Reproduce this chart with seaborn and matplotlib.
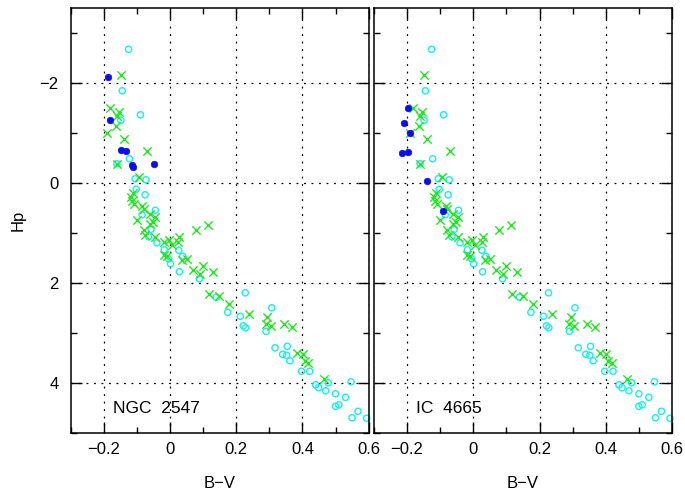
import matplotlib
matplotlib.use('Agg')
import numpy as np
import pandas as pd
from matplotlib import pyplot as plt
from matplotlib.ticker import MultipleLocator
import seaborn as sns

# values (B-V, Hp)
cyanBV = [-0.126, -0.145, -0.090, -0.149, -0.123, -0.161, -0.106, -0.073, -0.103, -0.076,
          -0.045, -0.085, -0.058, -0.065, -0.040, -0.018, 0.026, -0.005, 0.001, 0.038,
          0.028, 0.088, 0.139, 0.174, 0.227, 0.212, 0.221, 0.228, 0.307, 0.290,
          0.317, 0.354, 0.340, 0.352, 0.362, 0.397, 0.422, 0.440, 0.449, 0.478,
          0.470, 0.500, 0.530, 0.547, 0.500, 0.510, 0.568, 0.550, 0.594]
cyanHp = [-2.68, -1.85, -1.37, -1.26, -0.49, -0.39, -0.09, -0.07, 0.12, 0.23,
          0.54, 0.63, 0.92, 1.07, 1.19, 1.33, 1.34, 1.51, 1.61, 1.46,
          1.77, 1.91, 2.28, 2.58, 2.19, 2.66, 2.85, 2.89, 2.49, 2.96,
          3.29, 3.26, 3.42, 3.44, 3.55, 3.76, 3.76, 4.03, 4.09, 3.99,
          4.15, 4.21, 4.28, 3.97, 4.46, 4.43, 4.56, 4.69, 4.70]

greenBV = [-0.148, -0.181, -0.156, -0.160, -0.164, -0.191, -0.141, -0.070, -0.161, -0.095,
           -0.113, -0.118, -0.116, -0.110, -0.084, -0.080, -0.062, -0.045, -0.100, -0.052,
           -0.060, -0.080, -0.075, 0.077, 0.113, -0.045, 0.028, -0.020, -0.005, 0.005,
           0.025, -0.010, -0.018, 0.035, 0.050, 0.068, 0.100, 0.090, 0.131, 0.116,
           0.149, 0.179, 0.239, 0.294, 0.290, 0.304, 0.344, 0.368, 0.384, 0.402,
           0.407, 0.418, 0.465]
greenHp = [-2.17, -1.51, -1.43, -1.34, -1.15, -1.01, -0.89, -0.64, -0.39, -0.13,
           0.19, 0.27, 0.35, 0.41, 0.46, 0.51, 0.61, 0.67, 0.74, 0.77,
           0.81, 0.94, 1.03, 0.94, 0.83, 1.07, 1.07, 1.17, 1.14, 1.24,
           1.17, 1.46, 1.44, 1.54, 1.51, 1.73, 1.66, 1.82, 1.77, 2.21,
           2.25, 2.41, 2.62, 2.67, 2.81, 2.85, 2.82, 2.87, 3.39, 3.42,
           3.55, 3.59, 3.91]

blueNgcBV = [-0.188, -0.183, -0.149, -0.134, -0.112, -0.115, -0.050]
blueNgcHp = [-2.13, -1.26, -0.67, -0.64, -0.33, -0.36, -0.39]
blueIcBV = [-0.198, -0.209, -0.191, -0.215, -0.196, -0.141, -0.093]
blueIcHp = [-1.51, -1.21, -1.00, -0.60, -0.63, -0.04, 0.56]

clusterNames = ['NGC  2547', 'IC  4665']

plt.rcParams['font.family'] = ['Liberation Sans', 'DejaVu Sans']
plt.rcParams['axes.linewidth'] = 1.1

cyanColor = '#14f0f0'
greenColor = '#1ee81e'
blueColor = '#0c0cf0'


def drawPanel(ax, blueBV, blueHp, name, showY):
    ax.set_axisbelow(True)
    ax.grid(True, which='major', color='k', linestyle=(0, (1.5, 4.5)), linewidth=0.9)

    sns.scatterplot(ax=ax, x=cyanBV, y=cyanHp, marker='o', s=20, color=cyanColor, linewidth=1.0, clip_on=False)
    circles = ax.collections[-1]
    circles.set_facecolor('none')
    circles.set_edgecolor(cyanColor)

    sns.scatterplot(ax=ax, x=greenBV, y=greenHp, marker='x', s=36, color=greenColor, linewidth=1.0)
    sns.scatterplot(ax=ax, x=blueBV, y=blueHp, marker='o', s=22, color=blueColor, edgecolor=blueColor, linewidth=0.5)

    ax.set_xlim(-0.3, 0.6)
    ax.set_ylim(5.0, -3.5)
    ax.xaxis.set_major_locator(MultipleLocator(0.2))
    ax.xaxis.set_minor_locator(MultipleLocator(0.1))
    ax.yaxis.set_major_locator(MultipleLocator(2))
    ax.yaxis.set_minor_locator(MultipleLocator(1))
    ax.tick_params(which='both', direction='in', top=True, right=True, width=1.0, labelsize=12)
    ax.tick_params(which='major', length=8)
    ax.tick_params(which='minor', length=4)
    ax.tick_params(axis='x', pad=6)
    ax.tick_params(axis='y', pad=9)
    ax.xaxis.set_major_formatter(matplotlib.ticker.FuncFormatter(
        lambda v, p: '0' if abs(v) < 1e-9 else ('%.1f' % v).replace('-', '\u2212')))
    ax.yaxis.set_major_formatter(matplotlib.ticker.FuncFormatter(
        lambda v, p: ('%d' % round(v)).replace('-', '\u2212')))

    ax.set_xlabel('B\u2212V', fontsize=12, labelpad=14)
    if showY:
        ax.set_ylabel('Hp', fontsize=12, labelpad=10)
    else:
        ax.set_ylabel('')
        ax.set_yticklabels([])
    ax.text(-0.173, 4.5, name, fontsize=12.5, va='center', ha='left')


fig = plt.figure(figsize=(6.85, 4.91), dpi=100)
axLeft = fig.add_axes([0.1036, 0.1175, 0.4345, 0.8656])
axRight = fig.add_axes([0.546, 0.1175, 0.4350, 0.8656])

drawPanel(axLeft, blueNgcBV, blueNgcHp, clusterNames[0], True)
drawPanel(axRight, blueIcBV, blueIcHp, clusterNames[1], False)

plt.savefig('out.png', dpi=100)
plt.close()
